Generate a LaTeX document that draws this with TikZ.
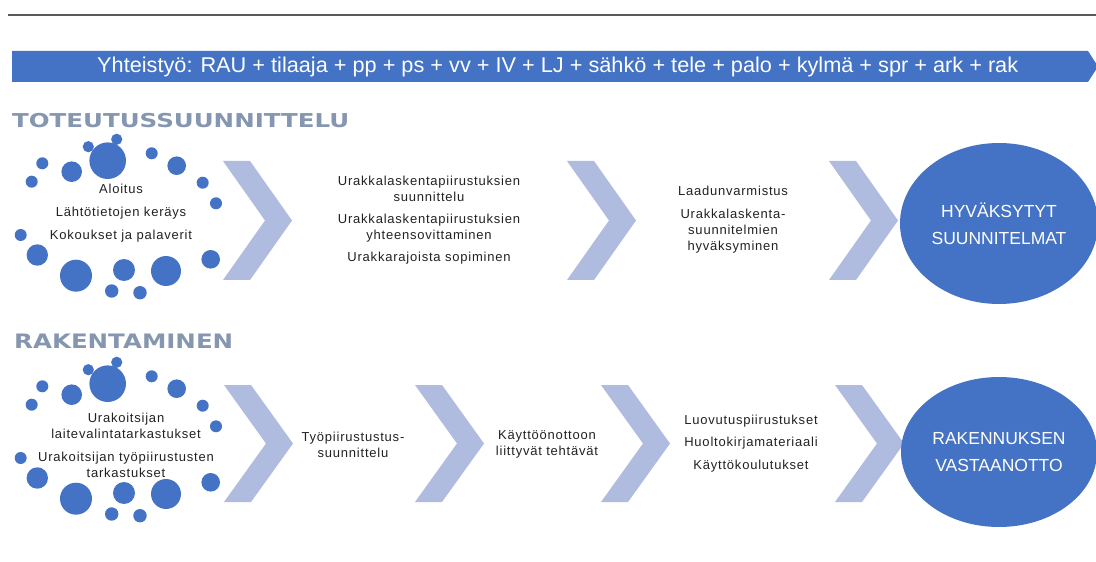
\documentclass[tikz,border=0pt]{standalone}
\usepackage{fontspec}
\setmainfont{Liberation Sans}
\newfontfamily\bodyfont{Liberation Sans}[LetterSpace=6]
\newfontfamily\headfont{DejaVu Sans}
\usetikzlibrary{shapes.geometric}
\definecolor{mainblue}{HTML}{4472C4}
\definecolor{chevblue}{HTML}{AFBBDF}
\definecolor{headgray}{HTML}{8496B0}
\definecolor{textdark}{HTML}{222222}
\definecolor{rulegray}{HTML}{595959}

% chevron arrow: left x, top y, height
\newcommand\chevronshape[3]{%
  \fill[chevblue] (#1,#2) -- ++(27,0) -- ++(42,#3/2) -- ++(-42,#3/2)
    -- ++(-27,0) -- ++(42,-#3/2) -- cycle;}

% ring of bubbles around a starting phase
\newcommand\bubblering{%
  \foreach \cx/\cy/\r in {116.7/139.3/5.6, 88.3/146.7/5.6, 107.7/160.7/18.3,
      151.7/153.3/6, 176.7/165.7/9.3, 42.3/163.3/6, 71.7/171.7/10.3,
      31.7/181.7/6, 202.7/182.7/6, 216/203.3/6, 20.7/235/6, 37.3/255/10.7,
      210.7/259.3/9.3, 76/275.7/16, 124/270/11, 166/271/15,
      111.7/291/6.7, 140/292.7/6.7}
    {\fill[mainblue] (\cx,\cy) circle[radius=\r];}}

\begin{document}
\begin{tikzpicture}[x=1bp,y=-1bp,
  steptext/.style={font=\bodyfont\fontsize{13bp}{16bp}\selectfont,
    text=textdark, align=center, inner sep=0pt},
  goal/.style={ellipse, fill=mainblue, inner sep=0pt, text=white,
    align=center, font=\fontsize{17.5bp}{27bp}\selectfont},
  phase/.style={anchor=base west, inner sep=0pt, text=headgray},
]
\useasboundingbox (0,0) rectangle (1096,562);
\fill[white] (0,0) rectangle (1096,562);

% top rule
\draw[rulegray, line width=2bp] (8,15) -- (1096,15);

% cooperation banner
\fill[mainblue] (12,51) -- (1088,51) -- (1098,66.5) -- (1088,82) -- (12,82) -- cycle;
\node[anchor=base west, inner sep=0pt, text=white] (team) at (97,73)
  {\resizebox{921bp}{15.5bp}{Yhteistyö: RAU + tilaaja + pp + ps + vv + IV + LJ + sähkö + tele + palo + kylmä + spr + ark + rak}};

% phase headings
\node[phase] (design) at (12,127.3)
  {\resizebox{337bp}{14.2bp}{\headfont\bfseries TOTEUTUSSUUNNITTELU}};
\node[phase] (build) at (14,349)
  {\resizebox{219bp}{14.5bp}{\headfont\bfseries RAKENTAMINEN}};

% design row
\bubblering
\chevronshape{223}{161}{119}
\chevronshape{567}{161}{119}
\chevronshape{829}{161}{119}
\node[steptext] (kickoff) at (121,213)
  {Aloitus\\[7bp]Lähtötietojen keräys\\[7bp]Kokoukset ja palaverit};
\node[steptext] (tenderdraw) at (429,220)
  {Urakkalaskentapiirustuksien\\suunnittelu\\[6bp]Urakkalaskentapiirustuksien\\yhteensovittaminen\\[6bp]Urakkarajoista sopiminen};
\node[steptext] (quality) at (733,220)
  {Laadunvarmistus\\[7bp]Urakkalaskenta-\\suunnitelmien\\hyväksyminen};
\node[goal, minimum width=198bp, minimum height=161bp] (approved) at (999,223.5)
  {HYVÄKSYTYT\\SUUNNITELMAT};

% construction row
\begin{scope}[shift={(0,223)}]
  \bubblering
\end{scope}
\chevronshape{224}{385}{117}
\chevronshape{415}{385}{117}
\chevronshape{601}{385}{117}
\chevronshape{835}{385}{117}
\node[steptext] (contractor) at (126,445)
  {Urakoitsijan\\laitevalintatarkastukset\\[7bp]Urakoitsijan työpiirustusten\\tarkastukset};
\node[steptext] (workdraw) at (353,444.5) {Työpiirustustus-\\suunnittelu};
\node[steptext] (commission) at (547,444.5) {Käyttöönottoon\\liittyvät tehtävät};
\node[steptext] (handover) at (751,443.5)
  {Luovutuspiirustukset\\[6.5bp]Huoltokirjamateriaali\\[6.5bp]Käyttökoulutukset};
\node[goal, minimum width=196bp, minimum height=150bp] (accepted) at (999,452)
  {RAKENNUKSEN\\VASTAANOTTO};
\end{tikzpicture}
\end{document}
